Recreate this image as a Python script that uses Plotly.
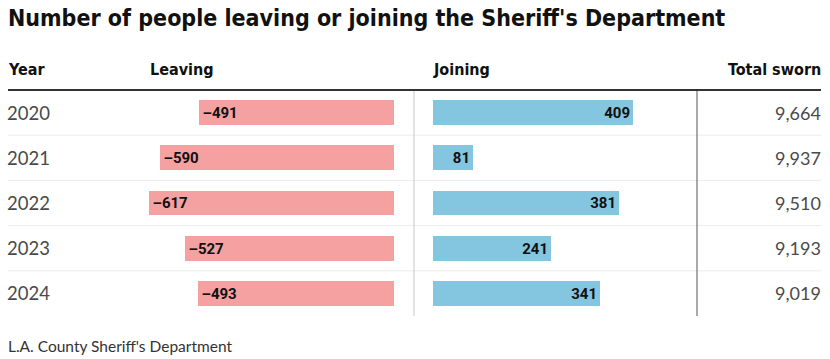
import plotly.graph_objects as go

years = ["2020", "2021", "2022", "2023", "2024"]
leaving = [-491, -590, -617, -527, -493]
joining = [409, 81, 381, 241, 341]
total_sworn = [9664, 9937, 9510, 9193, 9019]

W, H = 830, 359
def px(x):
    return x / W
def py(y):
    return 1 - y / H

rows = list(range(len(years)))

fig = go.Figure()
fig.add_trace(go.Bar(
    y=rows, x=leaving, orientation="h", xaxis="x", yaxis="y",
    marker=dict(color="#f5a0a1", line=dict(width=0)), width=0.55,
    text=["\u2013" + str(abs(v)) for v in leaving], texttemplate="%{text}",
    textposition="inside", insidetextanchor="end",
    textfont=dict(family="Roboto", size=15, color="#111", weight="bold"),
    hoverinfo="skip", cliponaxis=False,
))
fig.add_trace(go.Bar(
    y=rows, x=joining, orientation="h", xaxis="x2", yaxis="y",
    marker=dict(color="#84c5e0", line=dict(width=0)), width=0.55,
    text=[str(v) for v in joining], texttemplate="%{text}",
    textposition="inside", insidetextanchor="end",
    textfont=dict(family="Roboto", size=15, color="#111", weight="bold"),
    hoverinfo="skip", cliponaxis=False,
))

ann = []
hdr_font = dict(family="DejaVu Sans Condensed", size=16, color="#111", weight="bold")
ann.append(dict(x=px(6), y=py(18), xref="paper", yref="paper", text="Number of people leaving or joining the Sheriff's Department",
                showarrow=False, xanchor="left", yanchor="middle",
                font=dict(family="DejaVu Sans Condensed", size=23, color="#111", weight="bold")))
ann.append(dict(x=px(6), y=py(69), xref="paper", yref="paper", text="Year", showarrow=False, xanchor="left", yanchor="middle", font=hdr_font))
ann.append(dict(x=px(148), y=py(69), xref="paper", yref="paper", text="Leaving", showarrow=False, xanchor="left", yanchor="middle", font=hdr_font))
ann.append(dict(x=px(431), y=py(69), xref="paper", yref="paper", text="Joining", showarrow=False, xanchor="left", yanchor="middle", font=hdr_font))
ann.append(dict(x=px(823), y=py(69), xref="paper", yref="paper", text="Total sworn", showarrow=False, xanchor="right", yanchor="middle", font=hdr_font))
for i, yr in enumerate(years):
    ann.append(dict(x=px(5), y=i, xref="paper", yref="y", text=yr, showarrow=False, xanchor="left", yanchor="middle",
                    font=dict(family="Lato", size=18.5, color="#4a4a4a")))
    ann.append(dict(x=px(823), y=i, xref="paper", yref="y", text=f"{total_sworn[i]:,}", showarrow=False, xanchor="right", yanchor="middle",
                    font=dict(family="Lato", size=18, color="#4a4a4a")))
ann.append(dict(x=px(6), y=py(346), xref="paper", yref="paper", text="L.A. County Sheriff's Department", showarrow=False,
                xanchor="left", yanchor="middle", font=dict(family="Lato", size=15.5, color="#333")))

shapes = []
for i in range(len(years) - 1):
    shapes.append(dict(type="line", xref="paper", yref="y", x0=px(8), x1=px(821), y0=i + 0.5, y1=i + 0.5,
                       line=dict(color="#ececec", width=1)))
shapes.append(dict(type="line", xref="paper", yref="paper", x0=px(414), x1=px(414), y0=py(90), y1=py(316),
                   line=dict(color="#c8c8c8", width=1)))
shapes.append(dict(type="line", xref="paper", yref="paper", x0=px(697), x1=px(697), y0=py(90), y1=py(316),
                   line=dict(color="#555", width=1)))
shapes.append(dict(type="line", xref="paper", yref="paper", x0=px(8), x1=px(821), y0=py(90), y1=py(90),
                   line=dict(color="#333", width=2)))

fig.update_layout(
    width=W, height=H, margin=dict(l=0, r=0, t=0, b=0),
    paper_bgcolor="white", plot_bgcolor="white", showlegend=False,
    xaxis=dict(domain=[px(394 - 700 * 0.3965), px(394)], range=[-700, 0], visible=False, fixedrange=True),
    xaxis2=dict(domain=[px(433), px(433 + 500 * 0.489)], range=[0, 500], visible=False, fixedrange=True),
    yaxis=dict(domain=[py(316), py(90)], range=[4.5, -0.5], visible=False, fixedrange=True),
    annotations=ann, shapes=shapes, bargap=0,
    uniformtext=dict(mode=False),
)
fig.write_html("out.html", post_script="document.body.style.margin='0';document.body.style.padding='0';",
               config={"displayModeBar": False})
